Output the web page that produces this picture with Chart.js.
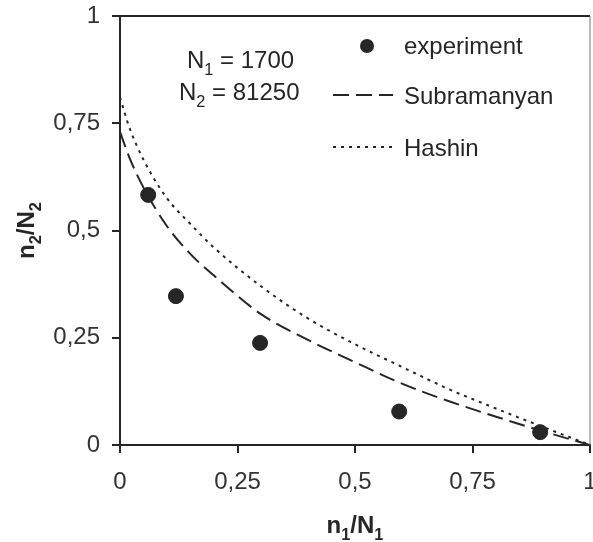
<!DOCTYPE html>
<html>
<head>
<meta charset="utf-8">
<script src="https://cdn.jsdelivr.net/npm/chart.js@4.4.1/dist/chart.umd.min.js"></script>
<style>
  html, body { margin: 0; padding: 0; background: #fff; }
  #wrap { width: 593px; height: 542px; }
</style>
</head>
<body>
<div id="wrap"><canvas id="c"></canvas></div>
<script>
// Experimental points (n1/N1, n2/N2).
var expX = [0.06, 0.119, 0.298, 0.594, 0.894];
var expY = [0.583, 0.347, 0.238, 0.078, 0.030];

// Model curves sampled at the same x positions.
var curveX  = [0, 0.02, 0.05, 0.1, 0.15, 0.2, 0.3, 0.4, 0.5, 0.6, 0.7, 0.8, 0.9, 1];
var subY    = [0.73, 0.67, 0.60, 0.51, 0.445, 0.395, 0.305, 0.245, 0.193, 0.143, 0.102, 0.066, 0.032, 0];
var hashinY = [0.81, 0.74, 0.665, 0.575, 0.515, 0.46, 0.37, 0.295, 0.235, 0.182, 0.13, 0.085, 0.042, 0];

var axisTicks = [0, 0.25, 0.5, 0.75, 1];

var INK = '#262626';
var FONT = '"Liberation Sans", Arial, sans-serif';

function pts(xs, ys) {
  return xs.map(function (x, i) { return { x: x, y: ys[i] }; });
}

// Text with subscripts: parts = [[text, isSub], ...]
function subText(ctx, parts, x, y, size, bold) {
  var cx = x;
  parts.forEach(function (p) {
    var s = p[1] ? size * 0.68 : size;
    ctx.font = (bold ? 'bold ' : '') + s + 'px ' + FONT;
    ctx.fillText(p[0], cx, p[1] ? y + size * 0.28 : y);
    cx += ctx.measureText(p[0]).width;
  });
  return cx - x;
}
function subWidth(ctx, parts, size, bold) {
  var w = 0;
  parts.forEach(function (p) {
    var s = p[1] ? size * 0.68 : size;
    ctx.font = (bold ? 'bold ' : '') + s + 'px ' + FONT;
    w += ctx.measureText(p[0]).width;
  });
  return w;
}

var decor = {
  id: 'decor',
  afterDraw: function (chart) {
    var ctx = chart.ctx;
    var a = chart.chartArea;
    ctx.save();

    // frame top and right
    ctx.strokeStyle = INK;
    ctx.lineWidth = 2;
    ctx.beginPath();
    ctx.moveTo(a.left, a.top);
    ctx.lineTo(a.right, a.top);
    ctx.stroke();
    ctx.strokeStyle = '#777';
    ctx.lineWidth = 1;
    ctx.beginPath();
    ctx.moveTo(a.right, a.top);
    ctx.lineTo(a.right, a.bottom);
    ctx.stroke();

    ctx.fillStyle = INK;
    ctx.textBaseline = 'alphabetic';
    ctx.textAlign = 'left';

    // N1 / N2 note
    subText(ctx, [['N', false], ['1', true], [' = 1700', false]], 187, 68, 24, false);
    subText(ctx, [['N', false], ['2', true], [' = 81250', false]], 179, 100, 24, false);

    // legend
    ctx.beginPath();
    ctx.arc(367, 46, 7, 0, Math.PI * 2);
    ctx.fill();
    ctx.font = '24px ' + FONT;
    ctx.fillText('experiment', 404, 54);
    ctx.fillText('Subramanyan', 404, 104);
    ctx.fillText('Hashin', 404, 156);

    ctx.strokeStyle = INK;
    ctx.lineWidth = 2;
    ctx.setLineDash([16, 7]);
    ctx.beginPath();
    ctx.moveTo(333, 95);
    ctx.lineTo(393, 95);
    ctx.stroke();
    ctx.setLineDash([3, 5]);
    ctx.beginPath();
    ctx.moveTo(333, 147);
    ctx.lineTo(396, 147);
    ctx.stroke();
    ctx.setLineDash([]);

    // axis titles
    var xt = [['n', false], ['1', true], ['/N', false], ['1', true]];
    var w = subWidth(ctx, xt, 24, true);
    subText(ctx, xt, (a.left + a.right) / 2 - w / 2, 533, 24, true);

    var yt = [['n', false], ['2', true], ['/N', false], ['2', true]];
    var wy = subWidth(ctx, yt, 24, true);
    ctx.translate(34, (a.top + a.bottom) / 2);
    ctx.rotate(-Math.PI / 2);
    subText(ctx, yt, -wy / 2, 0, 24, true);

    ctx.restore();
  }
};

function fmt(v) {
  return String(v).replace('.', ',');
}

new Chart(document.getElementById('c'), {
  type: 'scatter',
  data: {
    datasets: [
      {
        label: 'experiment',
        data: pts(expX, expY),
        pointRadius: 7.5,
        pointBackgroundColor: INK,
        pointBorderColor: INK,
        showLine: false
      },
      {
        label: 'Subramanyan',
        data: pts(curveX, subY),
        showLine: true,
        borderColor: INK,
        borderWidth: 2,
        borderDash: [16, 7],
        pointRadius: 0,
        cubicInterpolationMode: 'monotone'
      },
      {
        label: 'Hashin',
        data: pts(curveX, hashinY),
        showLine: true,
        borderColor: INK,
        borderWidth: 2,
        borderDash: [3, 5],
        pointRadius: 0,
        cubicInterpolationMode: 'monotone'
      }
    ]
  },
  options: {
    responsive: true,
    maintainAspectRatio: false,
    animation: false,
    layout: { autoPadding: false, padding: { top: 16, right: 3, left: 0, bottom: 0 } },
    plugins: {
      legend: { display: false },
      tooltip: { enabled: false }
    },
    scales: {
      x: {
        type: 'linear',
        min: 0,
        max: 1,
        afterBuildTicks: function (s) { s.ticks = axisTicks.map(function (v) { return { value: v }; }); },
        afterFit: function (s) { s.height = 97; s.paddingLeft = 0; s.paddingRight = 0; },
        border: { color: INK, width: 2 },
        grid: { drawOnChartArea: false, tickLength: 8, color: INK, lineWidth: 2 },
        ticks: {
          padding: 15,
          color: '#333',
          font: { family: FONT, size: 24 },
          callback: fmt
        }
      },
      y: {
        type: 'linear',
        min: 0,
        max: 1,
        afterBuildTicks: function (s) { s.ticks = axisTicks.map(function (v) { return { value: v }; }); },
        afterFit: function (s) { s.width = 120; s.paddingTop = 0; s.paddingBottom = 0; },
        border: { color: INK, width: 2 },
        grid: { drawOnChartArea: false, tickLength: 8, color: INK, lineWidth: 2 },
        ticks: {
          padding: 12,
          color: '#333',
          font: { family: FONT, size: 24 },
          callback: fmt
        }
      }
    }
  },
  plugins: [decor]
});
</script>
</body>
</html>
